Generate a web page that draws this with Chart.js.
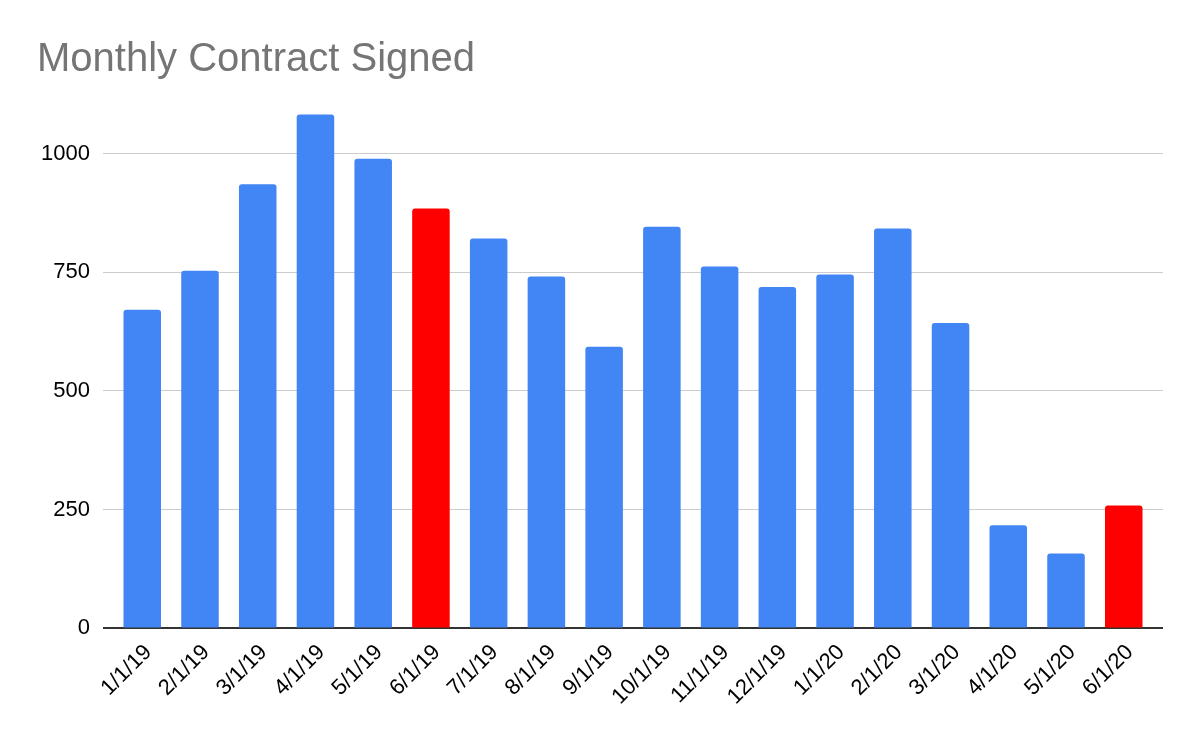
<!DOCTYPE html>
<html>
<head>
<meta charset="utf-8">
<script src="https://cdn.jsdelivr.net/npm/chart.js@4/dist/chart.umd.min.js"></script>
<style>
  html, body { margin: 0; padding: 0; background: #fff; }
  #wrap { width: 1200px; height: 742px; }
</style>
</head>
<body>
<div id="wrap"><canvas id="c" width="1200" height="742"></canvas></div>
<script>
const categories = ["1/1/19","2/1/19","3/1/19","4/1/19","5/1/19","6/1/19","7/1/19","8/1/19","9/1/19","10/1/19","11/1/19","12/1/19","1/1/20","2/1/20","3/1/20","4/1/20","5/1/20","6/1/20"];
const contracts = [671, 753, 935, 1082, 989, 884, 821, 741, 593, 846, 762, 719, 745, 842, 643, 217, 158, 259];
const highlighted = ["6/1/19", "6/1/20"];
const yTicks = [0, 250, 500, 750, 1000];
const chartTitle = "Monthly Contract Signed";

const barColors = categories.map(c => highlighted.includes(c) ? '#FF0000' : '#4285F4');

// extra room (in category units) between the outer bars and the ends of the gridlines
const edgeExtra = 0.18;

new Chart(document.getElementById('c'), {
  type: 'bar',
  data: {
    labels: categories,
    datasets: [{
      data: contracts,
      backgroundColor: barColors,
      borderRadius: { topLeft: 3, topRight: 3, bottomLeft: 0, bottomRight: 0 },
      borderSkipped: false,
      barPercentage: 1.0,
      categoryPercentage: 0.65
    }]
  },
  options: {
    responsive: false,
    animation: false,
    devicePixelRatio: 1,
    layout: { padding: { top: 36, left: 37, right: 37, bottom: 21 } },
    plugins: {
      legend: { display: false },
      tooltip: { enabled: false },
      title: {
        display: true,
        text: chartTitle,
        align: 'start',
        color: '#757575',
        font: { family: '"Liberation Sans", Arial, sans-serif', size: 40, weight: 'normal' },
        padding: { top: 0, bottom: 22 }
      }
    },
    scales: {
      x: {
        offset: true,
        afterBuildTicks: (scale) => {
          scale._startValue = -0.5 - edgeExtra;
          scale._valueRange = categories.length + 2 * edgeExtra;
        },
        grid: { display: false, drawTicks: false },
        border: { display: false },
        ticks: {
          color: '#000',
          font: { family: '"Liberation Sans", Arial, sans-serif', size: 22 },
          maxRotation: 45, minRotation: 45,
          padding: 11,
          labelOffset: 6,
          autoSkip: false
        }
      },
      y: {
        min: 0,
        max: 1100,
        afterBuildTicks: (scale) => { scale.ticks = yTicks.map(v => ({ value: v })); },
        afterFit: (scale) => { scale.width = 66; },
        grid: {
          drawTicks: false,
          color: (ctx) => (ctx.tick && ctx.tick.value === 0) ? '#333333' : '#cccccc',
          lineWidth: (ctx) => (ctx.tick && ctx.tick.value === 0) ? 2 : 1
        },
        border: { display: false },
        ticks: {
          color: '#000',
          font: { family: '"Liberation Sans", Arial, sans-serif', size: 22 },
          padding: 13,
          callback: (v) => String(v)
        }
      }
    }
  }
});
</script>
</body>
</html>
